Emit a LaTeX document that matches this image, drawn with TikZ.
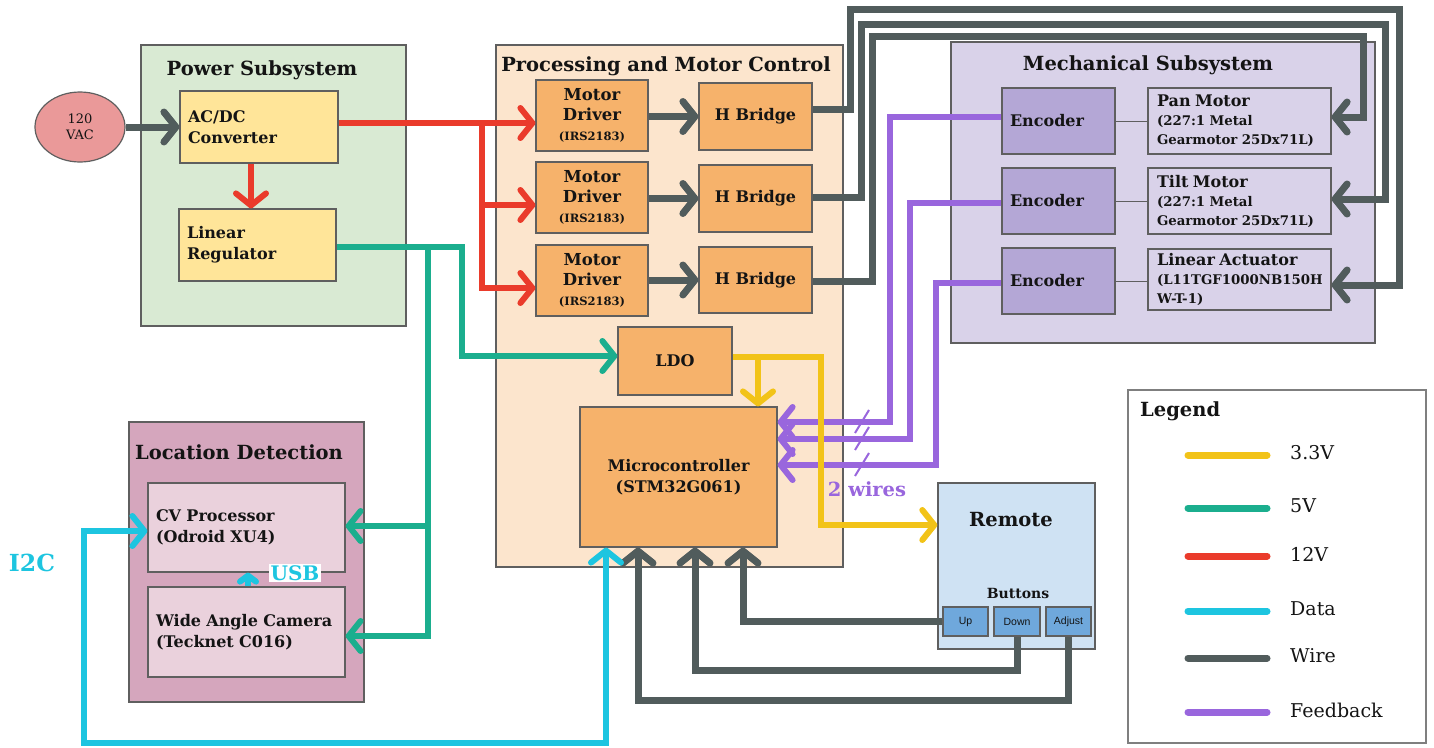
\documentclass[tikz,border=0pt]{standalone}
\usepackage{fontspec}
\setmainfont{DejaVu Serif}
\newfontfamily\btnfont{Liberation Sans}
\usetikzlibrary{arrows.meta,shapes.geometric}
\definecolor{cred}{HTML}{EA3B2B}
\definecolor{cgreen}{HTML}{1BAE8E}
\definecolor{cyel}{HTML}{F2C318}
\definecolor{ccyan}{HTML}{1DC5E0}
\definecolor{cgray}{HTML}{515C5C}
\definecolor{cpurp}{HTML}{9966DD}
\definecolor{cbord}{HTML}{5F5F5F}
\definecolor{ctext}{HTML}{141414}
\definecolor{fvac}{HTML}{EA9999}
\definecolor{fpwr}{HTML}{D9EAD3}
\definecolor{fpwrbox}{HTML}{FFE599}
\definecolor{fproc}{HTML}{FCE5CD}
\definecolor{fprocbox}{HTML}{F6B26B}
\definecolor{fmech}{HTML}{D9D2E9}
\definecolor{fenc}{HTML}{B4A7D6}
\definecolor{floc}{HTML}{D5A6BD}
\definecolor{flocbox}{HTML}{EAD1DC}
\definecolor{frem}{HTML}{CFE2F3}
\definecolor{fbtn}{HTML}{6FA8DC}
\tikzset{
  grp/.style={draw=cbord,line width=1.4pt,inner sep=0pt},
  bx/.style={draw=cbord,line width=1.2pt,inner sep=0pt,text=ctext},
  ttl/.style={font=\bfseries\fontsize{19.5}{22}\selectfont,text=ctext,inner sep=0pt},
  lbl/.style={font=\bfseries\fontsize{16}{21}\selectfont},
  lblL/.style={font=\bfseries\fontsize{16}{21}\selectfont,align=left,inner xsep=8pt,inner ysep=0pt},
  mdrv/.style={bx,fill=fprocbox,minimum width=112,minimum height=71,align=center,font=\bfseries\fontsize{16.5}{20}\selectfont},
  mot/.style={font=\bfseries\fontsize{13.3}{19}\selectfont,align=left,inner xsep=9pt,inner ysep=0pt,text width=165pt},
  btn/.style={draw=cbord,line width=1.2pt,fill=fbtn,inner sep=0pt,font=\btnfont\fontsize{10.5}{12}\selectfont,text=ctext},
  wirec/.style={draw=cgray,line width=7pt,line join=miter},
  v12/.style={draw=cred,line width=6pt},
  v5/.style={draw=cgreen,line width=6pt},
  v33/.style={draw=cyel,line width=6pt},
  data/.style={draw=ccyan,line width=6pt},
  fb/.style={draw=cpurp,line width=6pt},
  slash/.style={draw=cpurp,line width=2pt},
  thinln/.style={draw=cbord,line width=1pt},
  leg/.style={line width=7pt,line cap=round},
  legtxt/.style={font=\fontsize{19}{22}\selectfont,anchor=west,text=ctext,inner sep=0pt},
  >={Straight Barb[length=12pt,width=30pt,round]}
}
\newcommand{\irs}{\fontsize{11.5}{13}\selectfont (IRS2183)}
\newcommand{\mhead}{\fontsize{16}{19}\selectfont}
\newcommand{\mbody}{\fontsize{13.3}{19}\selectfont}
\begin{document}
\begin{tikzpicture}[x=1pt,y=-1pt]
\useasboundingbox (0,0) rectangle (1434,747);
% ---------- group boxes
\node[grp,fill=fpwr,minimum width=265,minimum height=281] (pwr) at (273.5,185.5) {};
\node[ttl] (pwrT) at (262,70) {Power Subsystem};
\node[grp,fill=fproc,minimum width=347,minimum height=522] (proc) at (669.5,306) {};
\node[ttl] (procT) at (666,66) {Processing and Motor Control};
\node[grp,fill=fmech,minimum width=424,minimum height=301] (mech) at (1163,192.5) {};
\node[ttl] (mechT) at (1148,65) {Mechanical Subsystem};
\node[grp,fill=floc,minimum width=235,minimum height=280] (loc) at (246.5,562) {};
\node[ttl] (locT) at (239,452) {Location Detection};
\node[grp,fill=frem,minimum width=157,minimum height=166] (rem) at (1016.5,566) {};
\node[ttl] (remT) at (1011,520) {Remote};
\node[font=\bfseries\fontsize{14}{16}\selectfont,text=ctext,inner sep=0pt] (btnT) at (1018,593) {Buttons};
\node[draw=cbord!80,line width=2.5pt,minimum width=298,minimum height=353,inner sep=0pt] (legend) at (1277,566.5) {};
\node[ttl,anchor=west] (legT) at (1140,411) {Legend};

% ---------- power
\node[draw=cbord,line width=1.2pt,fill=fvac,ellipse,minimum width=90,minimum height=70,inner sep=0pt,align=center,font=\fontsize{13}{16}\selectfont,text=ctext] (vac) at (80,127) {120\\VAC};
\node[bx,fill=fpwrbox,lblL,text width=142pt,minimum height=72] (acdc) at (259,127) {AC/DC\\Converter};
\node[bx,fill=fpwrbox,lblL,text width=141pt,minimum height=72] (linreg) at (257.5,245) {Linear\\Regulator};

% ---------- processing
\node[mdrv] (md1) at (592,115.5) {Motor\\Driver\\\irs};
\node[mdrv] (md2) at (592,197.5) {Motor\\Driver\\\irs};
\node[mdrv] (md3) at (592,280.5) {Motor\\Driver\\\irs};
\node[bx,fill=fprocbox,lbl,minimum width=113,minimum height=67] (hb1) at (755.5,116.5) {H Bridge};
\node[bx,fill=fprocbox,lbl,minimum width=113,minimum height=67] (hb2) at (755.5,198.5) {H Bridge};
\node[bx,fill=fprocbox,lbl,minimum width=113,minimum height=66] (hb3) at (755.5,280) {H Bridge};
\node[bx,fill=fprocbox,lbl,minimum width=114,minimum height=68] (ldo) at (675,361) {LDO};
\node[bx,fill=fprocbox,lbl,minimum width=197,minimum height=140,align=center] (mcu) at (678.5,477) {Microcontroller\\(STM32G061)};

% ---------- mechanical
\node[bx,fill=fenc,lblL,text width=97pt,minimum height=66] (enc1) at (1058.5,121) {Encoder};
\node[bx,fill=fenc,lblL,text width=97pt,minimum height=66] (enc2) at (1058.5,201) {Encoder};
\node[bx,fill=fenc,lblL,text width=97pt,minimum height=66] (enc3) at (1058.5,281) {Encoder};
\node[bx,fill=fmech,mot,minimum height=66] (pan) at (1239.5,121) {\mhead Pan Motor\\\mbody (227:1 Metal\\\mbody Gearmotor 25Dx71L)};
\node[bx,fill=fmech,mot,minimum height=66] (tilt) at (1239.5,201) {\mhead Tilt Motor\\\mbody (227:1 Metal\\\mbody Gearmotor 25Dx71L)};
\node[bx,fill=fmech,mot,minimum height=61] (lin) at (1239.5,279.5) {\mhead Linear Actuator\\\mbody (L11TGF1000NB150H\\\mbody W-T-1)};
\draw[thinln] (enc1.east) -- (enc1.east -| pan.west);
\draw[thinln] (enc2.east) -- (enc2.east -| tilt.west);
\draw[thinln] (enc3.east) -- (enc3.east -| lin.west);

% ---------- location
\node[bx,fill=flocbox,lblL,text width=181pt,minimum height=89] (cv) at (246.5,527.5) {CV Processor\\(Odroid XU4)};
\node[bx,fill=flocbox,lblL,text width=181pt,minimum height=90] (cam) at (246.5,632) {Wide Angle Camera\\(Tecknet C016)};

% ---------- remote buttons
\node[btn,minimum width=45,minimum height=29] (up) at (965.5,621.5) {Up};
\node[btn,minimum width=46,minimum height=29] (down) at (1017,621.5) {Down};
\node[btn,minimum width=45,minimum height=29] (adj) at (1068.5,621.5) {Adjust};

% ---------- connectors: wires
\draw[wirec,->] (vac.east) -- (acdc.west);
\draw[wirec,->] (md1.east |- hb1.west) -- (hb1.west);
\draw[wirec,->] (md2.east |- hb2.west) -- (hb2.west);
\draw[wirec,->] (md3.east |- hb3.west) -- (hb3.west);
\draw[wirec,->] (hb1.east |- 0,109) -- (850,109) -- (850,9) -- (1399,9) -- (1399,285) -- (lin.east |- 0,285);
\draw[wirec,->] (hb2.east |- 0,197) -- (861,197) -- (861,24) -- (1385,24) -- (1385,199) -- (tilt.east |- 0,199);
\draw[wirec,->] (hb3.east |- 0,281) -- (872,281) -- (872,36) -- (1363,36) -- (1363,117) -- (pan.east |- 0,117);
\draw[wirec,->] (up.west) -| (mcu.south -| 743,0);
\draw[wirec,->] (down.south) -- (down.south |- 0,670) -| (mcu.south -| 695,0);
\draw[wirec,->] (adj.south) -- (adj.south |- 0,700) -| (mcu.south -| 638,0);

% ---------- 12V
\draw[v12,->] (acdc.south -| 251,0) -- (linreg.north -| 251,0);
\coordinate (rj) at (482,123);
\draw[v12,->] (acdc.east |- rj) -- (md1.west |- rj);
\draw[v12,->] (rj) |- (md2.west |- 0,205);
\draw[v12,->] (rj) |- (md3.west |- 0,288);

% ---------- 5V
\coordinate (gj) at (428,247);
\draw[v5,->] (linreg.east |- gj) -| (462,356) -- (ldo.west |- 0,356);
\draw[v5,->] (gj) |- (cv.east |- 0,526);
\draw[v5,->] (gj) |- (cam.east |- 0,636);

% ---------- feedback
\draw[fb,->] (enc1.west |- 0,117) -| (890,422) -- (mcu.east |- 0,422);
\draw[fb,->] (enc2.west |- 0,203) -| (910,439) -- (mcu.east |- 0,439);
\draw[fb,->] (enc3.west |- 0,283) -| (936,465) -- (mcu.east |- 0,465);
\draw[slash] (855,433) -- (869,410);
\draw[slash] (855,450) -- (869,427);
\draw[slash] (855,476) -- (869,453);
\node[font=\bfseries\fontsize{19.5}{22}\selectfont,text=cpurp,inner sep=0pt] (twow) at (867,489) {2 wires};

% ---------- 3.3V
\draw[v33,->] (ldo.east |- 0,357) -| (821,525) -- (rem.west |- 0,525);
\draw[v33,->] (758,357) -- (mcu.north -| 758,0);

% ---------- data
\draw[data,<->] (cv.west |- 0,531) -| (84,743) -| (mcu.south -| 606,0);
\draw[data,->,>={Straight Barb[length=6pt,width=16pt,round]}] (cam.north -| 248,0) -- (cv.south -| 248,0);
\node[fill=white,font=\bfseries\fontsize{20}{22}\selectfont,text=ccyan,inner xsep=2pt,inner ysep=1pt] (usb) at (295,573) {USB};
\node[font=\bfseries\fontsize{23.5}{26}\selectfont,text=ccyan,inner sep=0pt] (i2c) at (32,563) {I2C};

% ---------- legend
\draw[leg,draw=cyel] (1188,455) -- (1267,455);
\node[legtxt] (l1) at (1290,453) {3.3V};
\draw[leg,draw=cgreen] (1188,508) -- (1267,508);
\node[legtxt] (l2) at (1290,506) {5V};
\draw[leg,draw=cred] (1188,556) -- (1267,556);
\node[legtxt] (l3) at (1290,554) {12V};
\draw[leg,draw=ccyan] (1188,611) -- (1267,611);
\node[legtxt] (l4) at (1290,609) {Data};
\draw[leg,draw=cgray] (1188,658) -- (1267,658);
\node[legtxt] (l5) at (1290,656) {Wire};
\draw[leg,draw=cpurp] (1188,712) -- (1267,712);
\node[legtxt] (l6) at (1290,710) {Feedback};
\end{tikzpicture}
\end{document}
